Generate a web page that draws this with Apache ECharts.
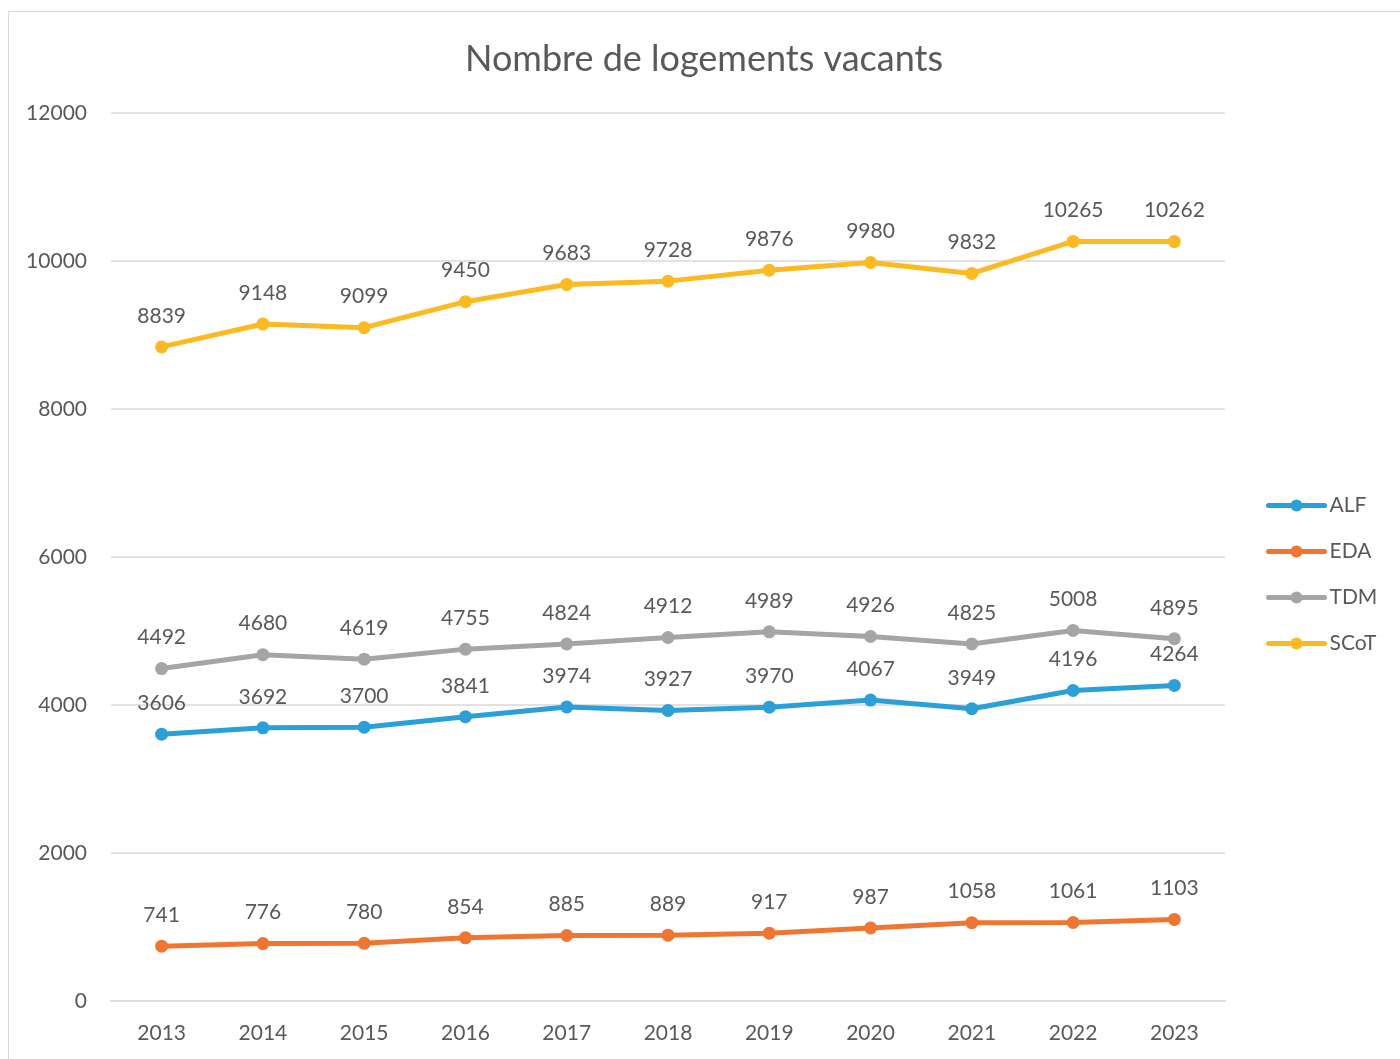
<!DOCTYPE html>
<html>
<head>
<meta charset="utf-8">
<script src="https://cdn.jsdelivr.net/npm/echarts@6/dist/echarts.min.js"></script>
<style>
  html, body { margin: 0; padding: 0; background: #fff; }
  #frame { position: absolute; left: 8px; top: 11px; width: 1420px; height: 1080px; border: 1px solid #d9d9d9; box-sizing: border-box; }
  #chart { position: absolute; left: 0; top: 0; width: 1400px; height: 1059px; }
</style>
</head>
<body>
<div id="frame"></div>
<div id="chart"></div>
<script>
const years = ['2013', '2014', '2015', '2016', '2017', '2018', '2019', '2020', '2021', '2022', '2023'];
const alf  = [3606, 3692, 3700, 3841, 3974, 3927, 3970, 4067, 3949, 4196, 4264];
const eda  = [741, 776, 780, 854, 885, 889, 917, 987, 1058, 1061, 1103];
const tdm  = [4492, 4680, 4619, 4755, 4824, 4912, 4989, 4926, 4825, 5008, 4895];
const scot = [8839, 9148, 9099, 9450, 9683, 9728, 9876, 9980, 9832, 10265, 10262];

const FONT = 'Lato, "Open Sans", sans-serif';
const TEXT = '#595959';

function line(name, data, color) {
  return {
    name: name,
    type: 'line',
    data: data,
    symbol: 'circle',
    symbolSize: 13,
    lineStyle: { width: 5, color: color },
    itemStyle: { color: color },
    label: {
      show: true,
      position: 'top',
      distance: 14,
      color: TEXT,
      fontSize: 21,
      fontFamily: FONT
    },
    emphasis: { disabled: true },
    animation: false
  };
}

const chart = echarts.init(document.getElementById('chart'));
chart.setOption({
  animation: false,
  title: {
    text: 'Nombre de logements vacants',
    left: 699,
    textAlign: 'center',
    top: 36,
    textStyle: { fontFamily: FONT, fontSize: 36, fontWeight: 'normal', color: TEXT }
  },
  legend: {
    orient: 'vertical',
    left: 1261,
    top: 490,
    itemGap: 25,
    itemWidth: 56,
    itemHeight: 15,
    lineStyle: { width: 5, cap: 'round' },
    textStyle: { fontFamily: FONT, fontSize: 21, color: TEXT },
    data: ['ALF', 'EDA', 'TDM', 'SCoT']
  },
  grid: { left: 111, right: 175, top: 113, bottom: 58, containLabel: false },
  xAxis: {
    type: 'category',
    data: years,
    boundaryGap: true,
    axisLine: { show: true, lineStyle: { color: '#d9d9d9', width: 1.5 } },
    axisTick: { show: false },
    axisLabel: { color: TEXT, fontSize: 21, fontFamily: FONT, margin: 22 }
  },
  yAxis: {
    type: 'value',
    min: 0,
    max: 12000,
    interval: 2000,
    axisLine: { show: false },
    axisTick: { show: false },
    splitLine: { lineStyle: { color: '#d9d9d9', width: 1.5 } },
    axisLabel: { color: TEXT, fontSize: 21, fontFamily: FONT, margin: 24, formatter: v => String(v) }
  },
  series: [
    line('ALF', alf, '#2A9FD8'),
    line('EDA', eda, '#EF7630'),
    line('TDM', tdm, '#A5A5A5'),
    line('SCoT', scot, '#FBBA22')
  ]
});
</script>
</body>
</html>
